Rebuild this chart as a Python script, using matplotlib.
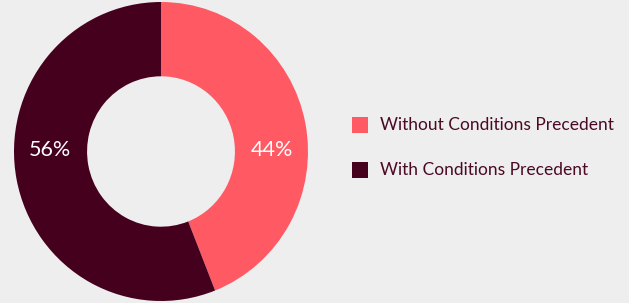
import matplotlib
matplotlib.use("Agg")
import matplotlib.pyplot as plt
from matplotlib.patches import Rectangle

categories = ["Without Conditions Precedent", "With Conditions Precedent"]
values = [44, 56]
colors = ["#ff5a64", "#45001e"]
bg = "#eeeeee"
text_color = "#4a0a24"

W, H = 629, 303
fig = plt.figure(figsize=(W / 100, H / 100), dpi=100, facecolor=bg)
plt.rcParams['font.family'] = ['Lato', 'DejaVu Sans']

cx, cy, rx, ry = 161, 151.5, 147, 149.5
ax = fig.add_axes([(cx - rx) / W, (H - cy - ry) / H, 2 * rx / W, 2 * ry / H])
ax.set_facecolor(bg)
wedges, _ = ax.pie(values, colors=colors, startangle=90, counterclock=False,
                   radius=1, wedgeprops=dict(width=0.497, edgecolor='none'))
ax.set_xlim(-1, 1)
ax.set_ylim(-1, 1)
ax.set_aspect('auto')
ax.axis('off')

# percentage labels, placed horizontally at the ring middle
ax.text(0.755, 0.01, f"{values[0]}%", color="white", fontsize=15.5, ha='center', va='center')
ax.text(-0.755, 0.01, f"{values[1]}%", color="white", fontsize=15.5, ha='center', va='center')

# legend
for i, (cat, col) in enumerate(zip(categories, colors)):
    ytop = 117 + i * 45
    fig.patches.append(Rectangle((352 / W, (H - ytop - 16) / H), 16 / W, 16 / H,
                                 transform=fig.transFigure, facecolor=col, edgecolor='none'))
    fig.text(380 / W, (H - ytop - 8) / H, cat, color=text_color, fontsize=12.5,
             ha='left', va='center')

fig.savefig("out.png", dpi=100, facecolor=bg)
